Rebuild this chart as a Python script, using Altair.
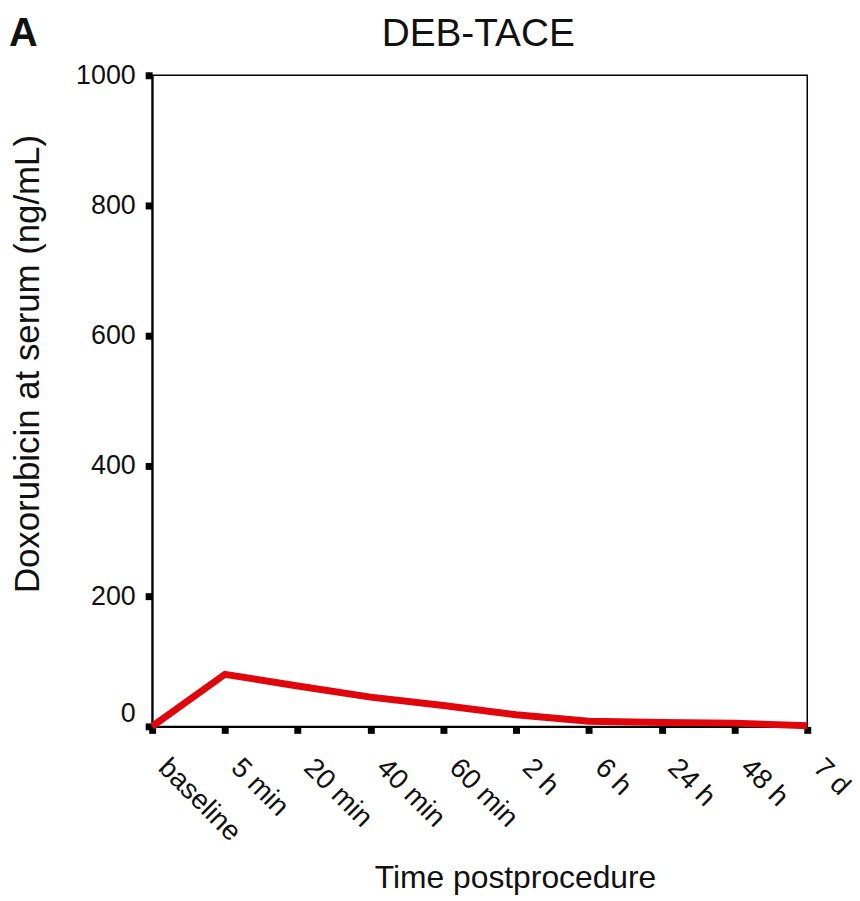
import altair as alt
import pandas as pd

times = ["baseline", "5 min", "20 min", "40 min", "60 min", "2 h", "6 h", "24 h", "48 h", "7 d"]
doxorubicin = [0, 80, 62, 45, 32, 18, 8, 6, 5, 1]
y_ticks = [0, 200, 400, 600, 800, 1000]

df = pd.DataFrame({"time": times, "value": doxorubicin})

FONT = "Liberation Sans"

x_enc = alt.X(
    "time:N",
    sort=times,
    scale=alt.Scale(type="point", padding=0),
    axis=alt.Axis(
        title="Time postprocedure",
        titleFontSize=32,
        titleFontWeight="normal",
        titleFont=FONT,
        titleColor="#111",
        titleX=365,
        titleY=162,
        titleBaseline="alphabetic",
        labelAngle=45,
        labelAlign="left",
        labelBaseline="middle",
        labelFontSize=28,
        labelFont=FONT,
        labelColor="#111",
        labelPadding=30,
        labelOffset=10,
        labelBound=False,
        tickSize=7,
        tickWidth=7,
        tickColor="black",
        domainColor="black",
        domainWidth=2,
        grid=False,
    ),
)

y_enc = alt.Y(
    "value:Q",
    scale=alt.Scale(domain=[0, 1000], nice=False),
    axis=alt.Axis(
        title="Doxorubicin at serum (ng/mL)",
        values=y_ticks,
        format="d",
        titleFontSize=35,
        titleFontWeight="normal",
        titleFont=FONT,
        titleColor="#111",
        titlePadding=30,
        titleY=290,
        labelFontSize=27,
        labelFont=FONT,
        labelColor="#111",
        labelPadding=10,
        labelOffset={"condition": {"test": "datum.value === 0", "value": -13}, "value": 0},
        tickSize=7,
        tickWidth=7,
        tickColor="black",
        domainColor="black",
        domainWidth=2,
        grid=False,
    ),
)

line = alt.Chart(df).mark_line(color="#e0060b", strokeWidth=7, strokeJoin="miter", clip=False).encode(
    x=x_enc, y=y_enc
)

labels = pd.DataFrame({"t": ["A", "DEB-TACE"]})

# panel letter
letter = alt.Chart(labels).transform_filter("datum.t === 'A'").mark_text(
    fontSize=40, fontWeight="bold", font=FONT, align="left", baseline="alphabetic", color="#111"
).encode(text="t:N", x=alt.value(-144), y=alt.value(-29))

# panel title
ptitle = alt.Chart(labels).transform_filter("datum.t === 'DEB-TACE'").mark_text(
    fontSize=39, font=FONT, align="center", baseline="alphabetic", color="#111"
).encode(text="t:N", x=alt.value(328), y=alt.value(-29))

chart = (
    alt.layer(line, letter, ptitle)
    .properties(
        width=659,
        height=655,
        autosize=alt.AutoSizeParams(type="none"),
        padding={"left": 145, "top": 65, "right": 45, "bottom": 172},
    )
    .configure_view(stroke="black", strokeWidth=1.5)
)

chart.save("out.html", embed_options={"renderer": "svg", "actions": False})
